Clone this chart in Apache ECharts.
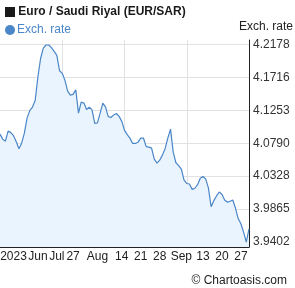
<!DOCTYPE html>
<html>
<head>
<meta charset="utf-8">
<script src="https://cdn.jsdelivr.net/npm/echarts@6/dist/echarts.min.js"></script>
<style>html,body{margin:0;padding:0;background:#fff}#c{width:295px;height:288px}</style>
</head>
<body>
<div id="c"></div>
<script>
// Daily categories: 2023-06-30 .. 2023-09-30
var startDate = new Date(Date.UTC(2023, 5, 30));
var dayCount = 93;
var categories = [];
for (var d = 0; d < dayCount; d++) {
  var dt = new Date(startDate.getTime() + d * 86400000);
  categories.push(dt.toISOString().slice(0, 10));
}

var rates = [
  4.0918, 4.0848, 4.0819, 4.0960, 4.0939, 4.0897, 4.0812, 4.0714, 4.0791, 4.0932,
  4.1143, 4.1248, 4.1298, 4.1389, 4.1720, 4.1980, 4.2127, 4.2170, 4.2170, 4.2132,
  4.2081, 4.2023, 4.1808, 4.1772, 4.1673, 4.1523, 4.1466, 4.1476, 4.1540, 4.1213,
  4.1368, 4.1354, 4.1265, 4.1295, 4.1258, 4.1068, 4.1075, 4.1213, 4.1354, 4.1298,
  4.1163, 4.1151, 4.1188, 4.1208, 4.1167, 4.1097, 4.0970, 4.0911, 4.0862, 4.0787,
  4.0787, 4.0805, 4.0862, 4.0864, 4.0742, 4.0735, 4.0721, 4.0566, 4.0510, 4.0552,
  4.0623, 4.0714, 4.0862, 4.0988, 4.0665, 4.0516, 4.0476, 4.0426, 4.0271, 4.0225,
  4.0218, 4.0142, 4.0158, 4.0208, 4.0299, 4.0323, 4.0289, 4.0163, 3.9898, 3.9984,
  4.0050, 4.0105, 4.0074, 3.9994, 3.9964, 3.9976, 3.9993, 3.9880, 3.9732, 3.9659,
  3.9542, 3.9402, 3.9589
];

var yTicks = [3.9402, 3.9865, 4.0328, 4.0790, 4.1253, 4.1716, 4.2178];

var xTickLabels = [
  ['2023-07-05', '2023'], ['2023-07-14', 'Jun'], ['2023-07-21', 'Jul'],
  ['2023-07-27', '27'], ['2023-08-05', 'Aug'], ['2023-08-14', '14'],
  ['2023-08-21', '21'], ['2023-08-28', '28'], ['2023-09-05', 'Sep'],
  ['2023-09-13', '13'], ['2023-09-20', '20'], ['2023-09-27', '27']
];
var labelMap = {};
xTickLabels.forEach(function (p) { labelMap[p[0]] = p[1]; });

var FONT = '"Liberation Sans", Arial, sans-serif';
var GRID_COLOR = '#e2e2e2';
var chart = echarts.init(document.getElementById('c'), null, {renderer: 'canvas'});
chart.setOption({
  animation: false,
  textStyle: {fontFamily: FONT},
  title: [{
    text: '{sq|} Euro / Saudi Riyal (EUR/SAR)',
    left: 0, top: 1,
    textStyle: {
      fontFamily: FONT, fontSize: 12, fontWeight: 'bold', color: '#1a1a1a',
      rich: {sq: {width: 10, height: 10, backgroundColor: '#1a1a1a', padding: 0}}
    }
  }, {
    text: '\u00a9 Chartoasis.com',
    right: 3, top: 270,
    textStyle: {fontFamily: FONT, fontSize: 12, fontWeight: 'normal', color: '#222'}
  }],
  legend: {
    left: 0, top: 19,
    icon: 'circle', itemWidth: 10, itemHeight: 10, itemGap: 2,
    textStyle: {fontFamily: FONT, fontSize: 12, color: '#4a86c8', padding: [0, 0, 0, -3]},
    data: ['Exch. rate']
  },
  grid: {left: 0, right: 46, top: 40, bottom: 41, containLabel: false, outerBoundsMode: 'none'},
  xAxis: [{
    type: 'category',
    data: categories,
    boundaryGap: false,
    axisLine: {show: true, onZero: false, lineStyle: {color: '#222', width: 1}},
    axisTick: {show: false},
    splitLine: {show: false},
    axisLabel: {
      interval: function (i, v) { return labelMap[v] !== undefined; },
      formatter: function (v) { return labelMap[v] || ''; },
      fontFamily: FONT, fontSize: 12, color: '#222', margin: 4,
      hideOverlap: false
    }
  }, {
    type: 'value', min: 0, max: 4, interval: 1,
    show: true, position: 'top',
    axisLine: {show: false, onZero: false}, axisTick: {show: false}, axisLabel: {show: false},
    splitLine: {show: true, showMinLine: false, lineStyle: {color: GRID_COLOR, width: 1}}
  }],
  yAxis: {
    type: 'value',
    position: 'right',
    min: 3.9333, max: 4.2240,
    name: 'Exch. rate',
    nameLocation: 'end',
    nameGap: 7,
    nameTextStyle: {fontFamily: FONT, fontSize: 12, color: '#222', align: 'left', padding: [0, 0, 0, -10]},
    axisLine: {show: true, onZero: false, lineStyle: {color: '#222', width: 1}},
    axisTick: {show: false, customValues: yTicks},
    splitLine: {show: true, lineStyle: {color: GRID_COLOR, width: 1}},
    axisLabel: {
      customValues: yTicks,
      formatter: function (v) { return v.toFixed(4); },
      fontFamily: FONT, fontSize: 12, color: '#333', margin: 4
    }
  },
  series: [{
    name: 'Exch. rate',
    type: 'line',
    data: rates,
    symbol: 'none',
    itemStyle: {color: '#4a86c8'},
    lineStyle: {color: '#4a86c8', width: 1.2},
    areaStyle: {color: '#eaf4fe', opacity: 1}
  }]
});
</script>
</body>
</html>
